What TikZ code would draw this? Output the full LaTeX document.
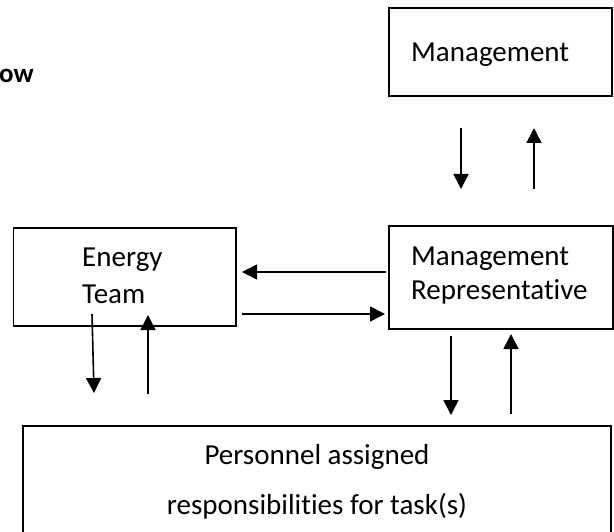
\documentclass[tikz,border=0pt]{standalone}
\usepackage{fontspec}
\setmainfont[Ligatures=NoCommon]{Carlito}
\usetikzlibrary{arrows.meta,calc}

\begin{document}
\begin{tikzpicture}[x=1pt, y=-1pt,
    box/.style={rectangle, draw, line width=1.8pt, inner sep=0pt, outer sep=0pt},
    txt/.style={inner sep=0pt, font=\fontsize{29}{36}\selectfont, align=left},
    arrow/.style={-{Triangle[length=15pt, width=15pt]}, line width=1.6pt},
]
    \useasboundingbox (0,0) rectangle (614,532);
    \clip (0,0) rectangle (614,532);

    \node[box, minimum width=223pt, minimum height=88pt] (mgmt) at (500.5,52) {};
    \node[box, minimum width=224pt, minimum height=103pt] (rep) at (501,277.5) {};
    \node[box, minimum width=222.5pt, minimum height=98pt] (energy) at (124.75,277) {};
    \node[box, minimum width=588pt, minimum height=119pt] (pers) at (317,485.5) {};

    % multi-line text: base is the last line
    \node[txt, anchor=base west] (mgmttxt) at (411,62) {Management};
    \node[txt, anchor=base west, font=\fontsize{29}{35}\selectfont] (reptxt) at (411,300) {Management\\Representative};
    \node[txt, anchor=base west] (energytxt) at (82,303) {Energy\\Team};
    \node[txt, anchor=base, align=center, font=\fontsize{29}{50}\selectfont] (perstxt) at (317,514) {Personnel assigned\\responsibilities for task(s)};
    \node[txt, anchor=base west, font=\fontsize{27}{36}\selectfont\bfseries] (flowtxt) at (-1,83) {ow};

    \draw[arrow] ($ (mgmt.south) + (-39.5,32) $) -- ($ (rep.north) + (-40,-37) $);
    \draw[arrow] ($ (rep.north) + (33,-37) $) -- ($ (mgmt.south) + (33.5,32) $);
    \draw[arrow] ($ (rep.west) + (-3,-5.5) $) -- ($ (energy.east) + (6,-5) $);
    \draw[arrow] ($ (energy.east) + (6,37) $) -- ($ (rep.west) + (-4,36.5) $);
    \draw[arrow] ($ (energy.south) + (-32.75,-12) $) -- ($ (pers.north) + (-223,-33) $);
    \draw[arrow] ($ (pers.north) + (-169,-32) $) -- ($ (energy.south) + (23.25,-11) $);
    \draw[arrow] ($ (rep.south) + (-50,7) $) -- ($ (pers.north) + (134,-11) $);
    \draw[arrow] ($ (pers.north) + (194,-12) $) -- ($ (rep.south) + (10,5) $);
\end{tikzpicture}
\end{document}
